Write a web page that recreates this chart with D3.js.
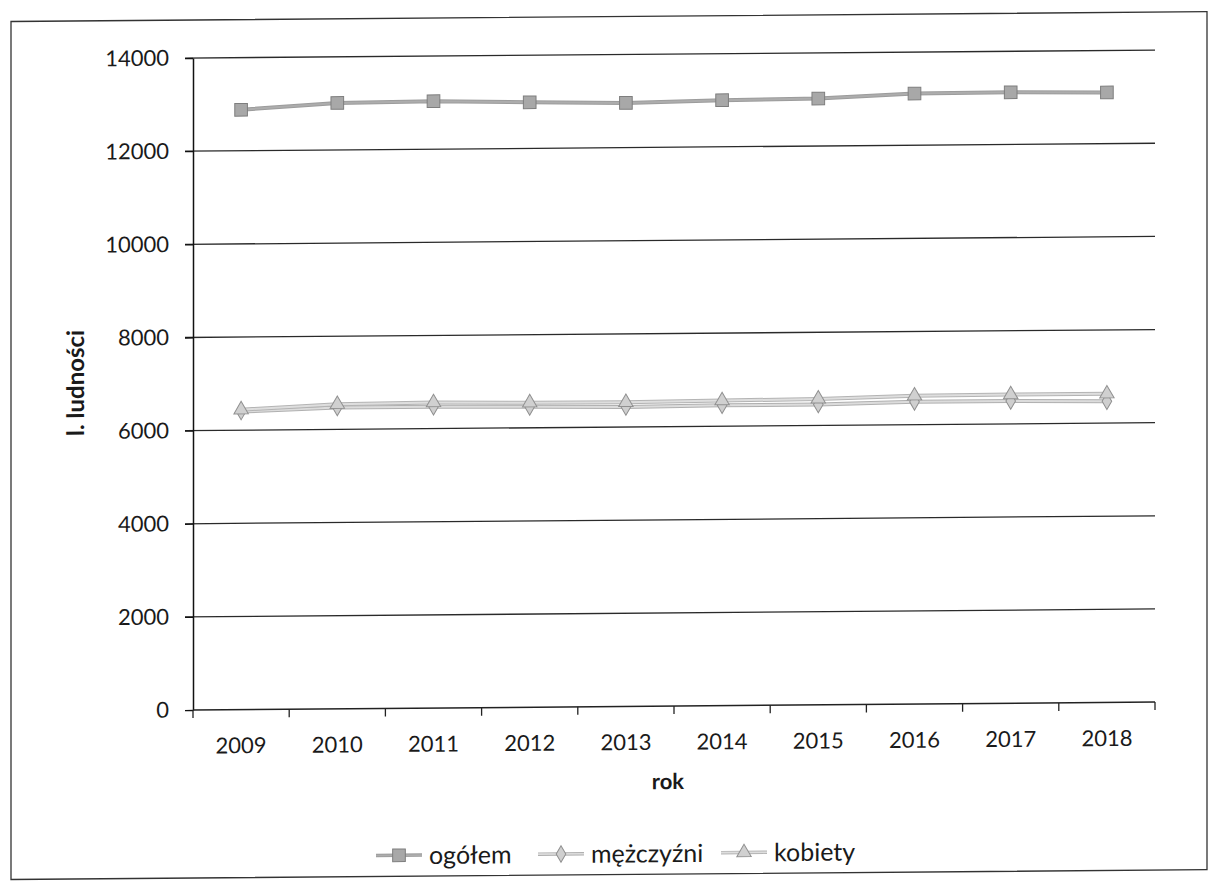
<!DOCTYPE html>
<html>
<head>
<meta charset="utf-8">
<script src="https://cdn.jsdelivr.net/npm/d3@7"></script>
<style>
  html, body { margin: 0; padding: 0; background: #fff; }
  svg { display: block; font-family: Lato, "Open Sans", sans-serif; }
</style>
</head>
<body>
<svg id="chart" width="1215" height="892"></svg>
<script>
// Liczba ludności gminy w latach 2009–2018
const years = ["2009", "2010", "2011", "2012", "2013", "2014", "2015", "2016", "2017", "2018"];
const ogolem    = [12880, 13010, 13030, 12990, 12960, 13000, 13020, 13110, 13120, 13100];
const kobiety   = [6440, 6540, 6560, 6540, 6530, 6550, 6570, 6620, 6630, 6630];
const mezczyzni = [6400, 6470, 6470, 6450, 6430, 6450, 6450, 6490, 6490, 6470];
const yTicks = [0, 2000, 4000, 6000, 8000, 10000, 12000, 14000];
const seriesNames = ["ogółem", "mężczyźni", "kobiety"];

const svg = d3.select("#chart");
const plotLeft = 193, plotRight = 1155, plotTop = 58, plotBottom = 710;

// whole sheet is slightly skewed, as on the printed page
const root = svg.append("g")
  .attr("transform", `translate(${plotLeft},0) skewY(-0.47) translate(${-plotLeft},0)`);

root.append("rect")
  .attr("x", 11).attr("y", 20).attr("width", 1196).attr("height", 858)
  .attr("fill", "none").attr("stroke", "#333").attr("stroke-width", 1.3);

const x = d3.scaleBand().domain(years).range([plotLeft, plotRight]);
const y = d3.scaleLinear().domain([0, 14000]).range([plotBottom, plotTop]);

// horizontal gridlines with short outer ticks
root.append("g").selectAll("line").data(yTicks.filter(v => v > 0)).join("line")
  .attr("x1", plotLeft - 8).attr("x2", plotRight)
  .attr("y1", d => y(d)).attr("y2", d => y(d))
  .attr("stroke", "#2a2a2a").attr("stroke-width", 1.3);

// y axis
const yAxis = root.append("g").attr("transform", `translate(${plotLeft},0)`)
  .call(d3.axisLeft(y).tickValues(yTicks).tickFormat(d3.format("d"))
    .tickSize(8).tickPadding(16).tickSizeOuter(0));
yAxis.select(".domain").attr("stroke", "#111").attr("stroke-width", 1.5);
yAxis.selectAll(".tick line").attr("stroke", "#111").attr("stroke-width", 1.3);
yAxis.selectAll("text").attr("font-size", 22).attr("fill", "#1a1a1a").attr("font-family", "Lato, sans-serif");

// x axis: labels centred in bands, ticks on band boundaries
const xAxis = root.append("g").attr("transform", `translate(0,${plotBottom})`)
  .call(d3.axisBottom(x).tickSize(0).tickPadding(28));
xAxis.select(".domain").remove();
xAxis.selectAll("text").attr("font-size", 22).attr("fill", "#1a1a1a").attr("font-family", "Lato, sans-serif");
root.append("line")
  .attr("x1", plotLeft).attr("x2", plotRight).attr("y1", plotBottom).attr("y2", plotBottom)
  .attr("stroke", "#222").attr("stroke-width", 1.5);
const bounds = years.map(d => x(d)).concat([x.range()[1]]);
root.append("g").selectAll("line").data(bounds).join("line")
  .attr("x1", d => d).attr("x2", d => d)
  .attr("y1", plotBottom).attr("y2", plotBottom + 8)
  .attr("stroke", "#222").attr("stroke-width", 1.3);

// axis titles
root.append("text")
  .attr("transform", `translate(84,${(plotTop + plotBottom) / 2 - 2}) rotate(-90)`)
  .attr("text-anchor", "middle").attr("font-size", 24).attr("font-weight", "bold")
  .attr("fill", "#1a1a1a").text("l. ludności");
root.append("text")
  .attr("x", (plotLeft + plotRight) / 2 - 6).attr("y", 793)
  .attr("text-anchor", "middle").attr("font-size", 22).attr("font-weight", "bold")
  .attr("fill", "#1a1a1a").text("rok");

// series styles
const styles = [
  { values: ogolem, symbol: d3.symbolSquare, size: 160, under: "#9c9c9c", over: "#adadad", fill: "#a8a8a8", stroke: "#7e7e7e" },
  { values: mezczyzni, symbol: d3.symbolDiamond, size: 80, under: "#b0b0b0", over: "#dcdcdc", fill: "#cfcfcf", stroke: "#8f8f8f" },
  { values: kobiety, symbol: d3.symbolTriangle, size: 90, under: "#b4b4b4", over: "#dedede", fill: "#d0d0d0", stroke: "#909090" }
];

const cx = d => x(d) + x.bandwidth() / 2;
const line = d3.line().x(d => cx(d.year)).y(d => y(d.value));

styles.forEach(s => {
  const pts = years.map((yr, i) => ({ year: yr, value: s.values[i] }));
  const g = root.append("g");
  g.append("path").datum(pts).attr("d", line)
    .attr("fill", "none").attr("stroke", s.under).attr("stroke-width", 4);
  g.append("path").datum(pts).attr("d", line)
    .attr("fill", "none").attr("stroke", s.over).attr("stroke-width", 2);
  g.selectAll("path.m").data(pts).join("path").attr("class", "m")
    .attr("transform", d => `translate(${cx(d.year)},${y(d.value)})`)
    .attr("d", d3.symbol().type(s.symbol).size(s.size))
    .attr("fill", s.fill).attr("stroke", s.stroke).attr("stroke-width", 1);
});

// legend
const legendX = [376, 538, 721];
const legend = root.append("g");
seriesNames.forEach((name, i) => {
  const s = styles[i];
  const g = legend.append("g").attr("transform", `translate(${legendX[i]},857)`);
  g.append("line").attr("x1", 0).attr("x2", 46).attr("y1", 0).attr("y2", 0)
    .attr("stroke", s.under).attr("stroke-width", 3.5);
  g.append("line").attr("x1", 0).attr("x2", 46).attr("y1", 0).attr("y2", 0)
    .attr("stroke", s.over).attr("stroke-width", 1.6);
  g.append("path").attr("transform", "translate(23,0)")
    .attr("d", d3.symbol().type(s.symbol).size(s.size))
    .attr("fill", s.fill).attr("stroke", s.stroke).attr("stroke-width", 1);
  g.append("text").attr("x", 53).attr("y", 9)
    .attr("font-size", 25).attr("fill", "#1a1a1a").text(name);
});
</script>
</body>
</html>
